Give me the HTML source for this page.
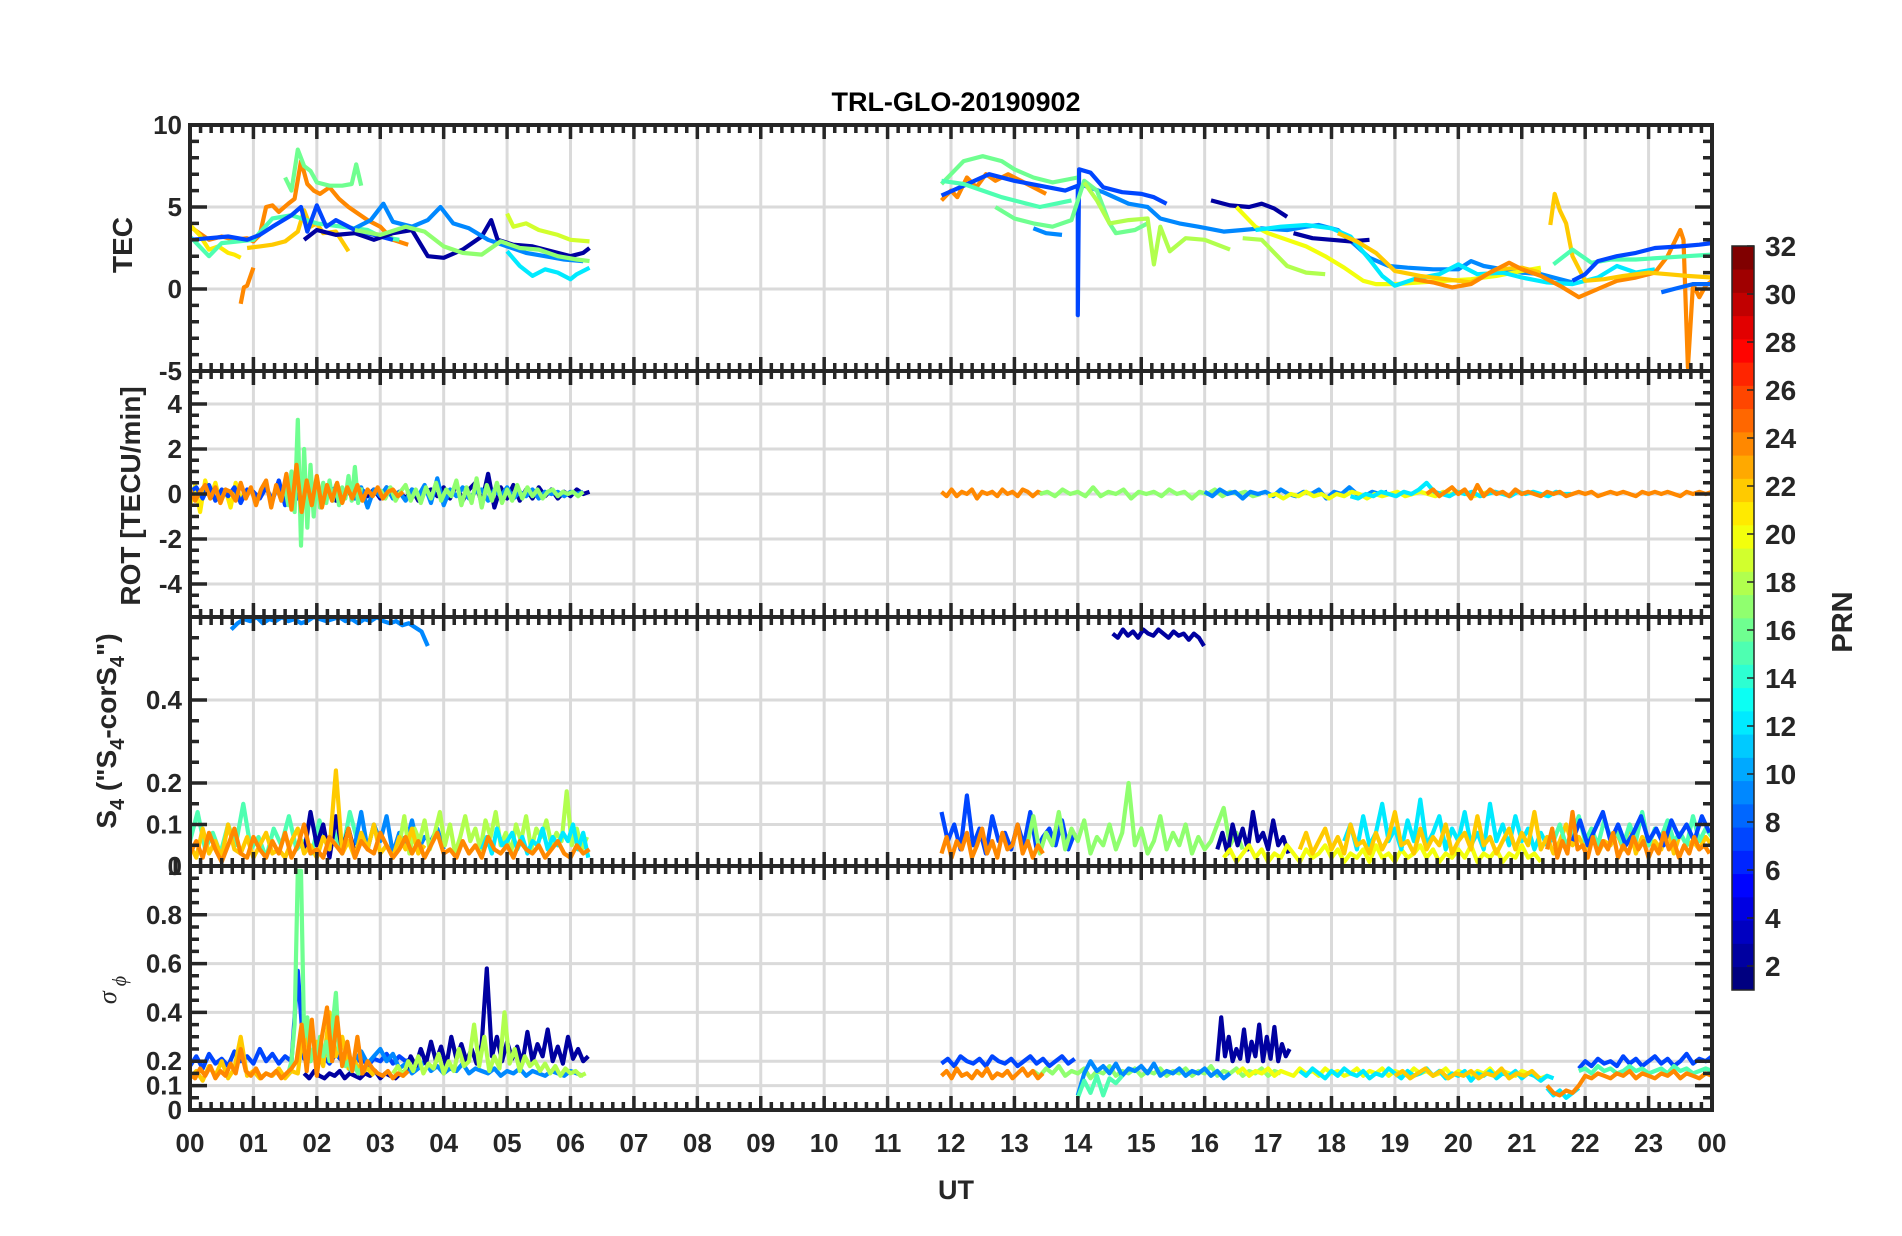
<!DOCTYPE html>
<html><head><meta charset="utf-8">
<style>
html,body{margin:0;padding:0;background:#fff;}
svg{display:block;font-family:"Liberation Sans",Arial,sans-serif;font-weight:bold;}
</style></head>
<body>
<svg id="chart" width="1902" height="1236" viewBox="0 0 1902 1236" xmlns="http://www.w3.org/2000/svg">
<rect x="0" y="0" width="1902" height="1236" fill="#fff"/>
<defs>
<clipPath id="c0"><rect x="190" y="125" width="1522" height="246"/></clipPath>
<clipPath id="c1"><rect x="190" y="371" width="1522" height="246"/></clipPath>
<clipPath id="c2"><rect x="190" y="617" width="1522" height="249"/></clipPath>
<clipPath id="c3"><rect x="190" y="866" width="1522" height="244"/></clipPath>
</defs>
<g id="grid"></g>
<g id="series"></g>
<g id="axes"></g>
<text x="956" y="111" font-size="27" text-anchor="middle" fill="#000">TRL-GLO-20190902</text>
<text x="956" y="1199" font-size="27" text-anchor="middle" fill="#262626">UT</text>
<text transform="translate(132,245) rotate(-90)" font-size="28" text-anchor="middle" fill="#262626">TEC</text>
<text transform="translate(140,496) rotate(-90)" font-size="28" text-anchor="middle" fill="#262626">ROT [TECU/min]</text>
<text transform="translate(116,731) rotate(-90)" font-size="28" text-anchor="middle" fill="#262626">S<tspan font-size="20" dy="8">4</tspan><tspan dy="-8"> ("S</tspan><tspan font-size="20" dy="8">4</tspan><tspan dy="-8">-corS</tspan><tspan font-size="20" dy="8">4</tspan><tspan dy="-8">")</tspan></text>
<text transform="translate(116,990) rotate(-90)" font-size="26" text-anchor="middle" fill="#262626" font-family="Liberation Serif, serif" font-style="italic" font-weight="normal">σ<tspan font-size="20" dy="10"> ϕ</tspan></text>
<g id="cbar"></g>
<text transform="translate(1852,622) rotate(-90)" font-size="29" text-anchor="middle" fill="#262626">PRN</text>
</svg>
<script>
// ---------- data ----------
const hourLabels = ["00","01","02","03","04","05","06","07","08","09","10","11","12","13","14","15","16","17","18","19","20","21","22","23","00"];
const tecTicks = [-5,0,5,10];
const rotTicks = [-4,-2,0,2,4];
const s4Ticks = [0,0.1,0.2,0.4];
const sigTicks = [0,0.1,0.2,0.4,0.6,0.8];
const cbarTicks = [2,4,6,8,10,12,14,16,18,20,22,24,26,28,30,32];

const tecPrn = [24,22,21,24,16,15,7,2,9,12,17,19,16,24,7,9,15,16,18,18,2,2,20,12,22,24,22,15,7,8,9];
const tecPts = [
 [[0,3.8],[0.15,3.4],[0.3,3.0],[0.5,3.2],[0.7,3.0],[0.9,3.1],[1.0,2.9],[1.1,3.3],[1.2,5.0],[1.3,5.1],[1.4,4.7],[1.55,5.2],[1.65,5.5],[1.75,7.8],[1.85,6.4],[1.95,6.0],[2.05,5.8],[2.2,6.2],[2.35,5.5],[2.5,5.0],[2.65,4.6],[2.8,4.2],[3.0,3.8],[3.2,3.0],[3.44,2.7]],
 [[0.9,2.5],[1.1,2.6],[1.3,2.7],[1.5,2.9],[1.7,3.5],[1.8,4.8],[1.9,3.8],[2.0,4.0],[2.1,3.4],[2.3,3.5],[2.45,2.6],[2.5,2.3]],
 [[0,3.9],[0.15,3.3],[0.3,2.4],[0.45,2.6],[0.6,2.2],[0.7,2.1],[0.8,1.9]],
 [[0.8,-0.9],[0.85,0.1],[0.9,0.2],[1.0,1.3]],
 [[1.5,6.8],[1.6,6.0],[1.7,8.5],[1.8,7.5],[1.9,7.2],[2.0,6.5],[2.2,6.3],[2.4,6.3],[2.55,6.4],[2.62,7.6],[2.7,6.3]],
 [[0,3.2],[0.3,2.0],[0.5,2.8],[1.0,3.0],[1.3,4.3],[1.6,4.5],[2.0,4.0],[2.4,3.8],[2.8,3.6],[3.0,3.2],[3.3,3.0]],
 [[0,3.0],[0.3,3.1],[0.6,3.2],[0.9,3.0],[1.1,3.3],[1.3,3.8],[1.6,4.5],[1.75,5.0],[1.85,3.5],[2.0,5.1],[2.15,3.8],[2.3,4.2],[2.6,3.6],[2.9,3.3],[3.2,3.0]],
 [[1.8,3.0],[2.0,3.6],[2.3,3.3],[2.6,3.4],[2.9,3.0],[3.2,3.4],[3.5,3.6],[3.75,2.0],[4.0,1.9],[4.3,2.4],[4.6,3.2],[4.75,4.2],[4.85,3.0],[5.1,2.7],[5.4,2.6],[5.7,2.3],[6.0,2.0],[6.2,2.2],[6.3,2.5]],
 [[2.6,3.7],[2.85,4.2],[3.05,5.2],[3.2,4.1],[3.5,3.8],[3.75,4.2],[3.95,5.0],[4.15,4.0],[4.4,3.7],[4.7,3.0],[5.0,2.6],[5.3,2.2],[5.6,2.0],[5.9,1.8],[6.2,1.7]],
 [[5.0,2.3],[5.2,1.4],[5.4,0.8],[5.6,1.2],[5.8,1.0],[6.0,0.6],[6.1,0.9],[6.3,1.3]],
 [[2.6,3.6],[3.0,3.3],[3.4,3.8],[3.7,3.5],[4.0,2.6],[4.3,2.2],[4.6,2.1],[4.9,2.9],[5.2,2.5],[5.5,2.4],[5.8,2.0],[6.1,1.8],[6.3,1.7]],
 [[5.0,4.6],[5.1,3.8],[5.3,4.0],[5.5,3.6],[5.8,3.3],[6.0,3.0],[6.3,2.9]],
 [[11.85,6.4],[12.0,7.0],[12.2,7.8],[12.5,8.1],[12.8,7.8],[13.0,7.3],[13.3,6.8],[13.6,6.5],[14.0,6.8]],
 [[11.85,5.4],[12.0,6.0],[12.1,5.6],[12.25,6.8],[12.4,6.2],[12.55,7.0],[12.7,6.6],[12.9,7.0],[13.1,6.6],[13.3,6.2],[13.5,5.8]],
 [[11.85,5.7],[12.2,6.3],[12.6,7.0],[13.0,6.6],[13.4,6.3],[13.8,6.0],[14.0,6.3],[14.0,-1.6],[14.02,7.3],[14.2,7.1],[14.4,6.2],[14.7,5.9],[15.0,5.8],[15.2,5.6],[15.4,5.2]],
 [[14.1,6.3],[14.4,5.9],[14.8,5.2],[15.1,5.0],[15.3,4.3],[15.6,4.0],[15.9,3.8],[16.3,3.5],[16.6,3.6],[16.9,3.7],[17.3,3.6],[17.6,3.8],[17.8,3.9],[18.1,3.6],[18.4,2.6],[18.6,1.9],[18.9,1.4],[19.2,1.3],[19.6,1.2],[20.0,1.2],[20.2,1.7],[20.4,1.4],[20.7,1.2],[21.0,1.0],[21.3,0.9],[21.6,0.6],[21.8,0.4]],
 [[11.85,6.6],[12.2,6.4],[12.5,6.0],[12.8,5.6],[13.1,5.3],[13.4,5.0],[13.9,5.4]],
 [[12.7,5.0],[13.0,4.3],[13.3,4.0],[13.6,3.8],[13.9,4.2],[14.1,6.6],[14.3,6.0],[14.5,4.0],[14.6,3.4],[14.9,3.6],[15.1,4.0]],
 [[14.1,6.5],[14.3,5.4],[14.5,4.0],[14.8,4.2],[15.1,4.3],[15.2,1.5],[15.3,3.8],[15.45,2.3],[15.7,3.1],[16.0,3.0],[16.4,2.4]],
 [[16.6,3.1],[16.9,3.0],[17.1,2.2],[17.3,1.4],[17.6,1.0],[17.9,0.9]],
 [[16.1,5.4],[16.4,5.1],[16.7,5.0],[16.9,5.2],[17.1,4.9],[17.3,4.4]],
 [[17.4,3.4],[17.7,3.1],[18.0,3.0],[18.3,2.9],[18.6,3.0]],
 [[16.5,5.0],[16.8,3.8],[17.0,3.4],[17.3,3.0],[17.6,2.6],[17.9,2.0],[18.2,1.3],[18.5,0.5],[18.7,0.3],[19.0,0.3],[19.4,0.4],[19.8,0.5],[20.2,0.6],[20.6,0.8],[21.0,1.1],[21.3,1.3]],
 [[16.8,3.6],[17.2,3.8],[17.6,3.9],[18.0,3.7],[18.3,3.2],[18.6,1.8],[18.8,0.8],[19.0,0.2],[19.3,0.6],[19.7,0.9],[20.0,1.5],[20.3,0.9],[20.7,1.0],[21.0,0.7],[21.4,0.4],[21.8,0.3],[22.2,0.7],[22.5,1.4],[22.8,1.0],[23.1,1.2]],
 [[18.1,3.4],[18.4,2.9],[18.7,2.2],[19.0,1.1],[19.4,0.8],[19.8,0.6],[20.2,0.4],[20.6,1.2],[21.0,1.3],[21.3,1.0]],
 [[19.3,0.6],[19.6,0.4],[19.9,0.1],[20.2,0.3],[20.5,1.0],[20.8,1.6],[21.0,1.2],[21.3,0.8],[21.6,0.2],[21.9,-0.5],[22.2,0.0],[22.5,0.5],[22.8,0.7],[23.1,1.0],[23.3,2.0],[23.5,3.6],[23.55,3.0],[23.62,-4.8],[23.7,0.3],[23.8,-0.5],[23.9,0.2],[24,0.5]],
 [[21.45,3.9],[21.52,5.8],[21.6,4.8],[21.7,4.0],[21.8,2.0],[22.0,0.5],[22.3,0.6],[22.6,0.8],[23.0,1.0],[23.3,0.9],[23.6,0.8],[24,0.7]],
 [[21.5,1.5],[21.8,2.4],[22.1,1.6],[22.4,1.8],[22.8,1.8],[23.2,1.9],[23.6,2.0],[24,2.1]],
 [[21.8,0.5],[22.0,0.9],[22.2,1.7],[22.5,2.0],[22.8,2.2],[23.1,2.5],[23.5,2.6],[23.8,2.7],[24,2.8]],
 [[23.2,-0.2],[23.4,0.0],[23.7,0.3],[24,0.3]],
 [[13.3,3.7],[13.5,3.4],[13.75,3.3]]
];

const rotPrn = [21,7,2,9,17,16,24,24,17,9,20,12,24];
const rotStart = [0,0,1.8,2.5,3.0,1.5,0,11.85,13.4,16.0,17.0,18.3,19.5];
const rotStep = [0.08,0.1,0.1,0.1,0.08,0.05,0.08,0.08,0.12,0.12,0.12,0.12,0.1];
const rotVals = [
 [-0.5,0.4,-0.8,0.6,-0.2,0.5,-0.4,0.2,-0.6,0.5,-0.3,0.2],
 [0.1,0.3,-0.2,0.4,-0.3,0.2,-0.1,0.3,-0.4,0.2,0.1,-0.2,0.3,-0.3,0.6,-0.5,0.4,-0.2,0.3,-0.1,0.2,-0.2,0.1,0.3,-0.2,0.1,-0.1,0.2,0.0,0.1],
 [0.1,-0.2,0.2,-0.1,0.3,-0.3,0.1,0.2,-0.2,0.1,-0.1,0.2,-0.2,0.3,-0.1,0.1,-0.2,0.2,-0.3,0.1,0.2,-0.1,0.3,-0.2,0.4,-0.3,0.2,0.5,-0.4,0.9,-0.6,0.3,-0.2,0.4,-0.3,0.2,-0.2,0.3,-0.1,0.2,-0.2,0.1,-0.1,0.2,0.0,0.1],
 [0.1,-0.2,0.3,-0.6,0.2,-0.1,0.3,-0.2,0.1,-0.3,0.2,-0.1,0.4,-0.4,0.7,-0.5,0.2,-0.1,0.3,-0.2,0.1,0.2,-0.3,0.2,-0.1,0.3,-0.2,0.1,-0.1,0.2,-0.2,0.1,0.0,0.1,-0.1,0.1,0.0,0.1],
 [0.2,-0.2,0.3,-0.3,0.1,0.4,-0.3,0.2,-0.4,0.3,-0.2,0.5,-0.3,0.2,-0.1,0.6,-0.5,0.3,-0.4,0.7,-0.6,0.4,-0.3,0.5,-0.4,0.2,-0.3,0.4,-0.2,0.3,-0.1,0.2,-0.2,0.1,0.2,-0.1,0.1,0.0,0.1,-0.1,0.1],
 [0.3,-0.5,1.0,-0.8,3.3,-2.3,2.0,-1.5,1.3,-1.0,0.8,-0.6,0.5,-0.4,0.6,-0.3,0.4,-0.5,0.3,-0.2,0.8,-0.3,1.2,-0.4,0.3],
 [0.2,-0.3,0.1,0.4,-0.2,0.3,-0.4,0.2,0.1,-0.3,0.5,-0.2,0.3,-0.5,0.2,0.6,-0.6,0.4,-0.3,0.9,-0.7,1.3,-0.8,0.6,-0.5,0.8,-0.6,0.4,-0.3,0.5,-0.4,0.3,-0.2,0.4,-0.3,0.2,-0.1,0.3,-0.2,0.1,0.2,-0.1,0.1],
 [0.1,-0.1,0.2,-0.1,0.1,0.0,0.2,-0.2,0.1,0.0,0.1,-0.1,0.2,0.0,0.1,-0.1,0.2,0.1,-0.1,0.1,0.0],
 [0.0,0.1,-0.1,0.2,0.0,0.1,-0.1,0.3,-0.1,0.1,0.0,0.2,-0.2,0.1,0.0,0.1,-0.1,0.2,0.0,0.1,-0.2,0.1,0.0,0.2,-0.1,0.1,0.0,0.1,-0.1,0.0],
 [0.1,-0.1,0.2,0.0,0.1,-0.2,0.1,0.0,0.1,-0.1,0.2,0.0,-0.1,0.1,0.0,0.2,-0.2,0.1,0.0,0.3,0.0,-0.1,0.1,0.0,0.1],
 [-0.1,0.0,-0.2,0.0,-0.1,0.1,-0.1,0.0,-0.2,0.0,-0.1,0.1,0.0,-0.2,0.0,-0.1,0.0,0.1,-0.1,0.0,0.1,0.0,-0.1,0.1,0.0,0.1,0.0,-0.1,0.0,0.1],
 [-0.1,-0.2,0.0,-0.1,0.1,0.0,-0.1,0.1,0.0,0.2,0.5,0.1,0.0,-0.1,0.1,0.0,0.1,-0.1,0.0,0.1,0.0,-0.1,0.1,0.0,0.1,0.0,-0.1,0.1,0.0,0.0],
 [0.0,0.2,-0.1,0.1,0.3,0.0,0.2,-0.2,0.4,-0.1,0.2,0.0,0.1,-0.1,0.2,0.0,0.1,0.0,-0.1,0.1,0.0,0.1,-0.1,0.0,0.1,0.0,0.1,-0.1,0.0,0.1,0.0,0.1,0.0,-0.1,0.1,0.0,0.1,0.0,0.1,0.0,-0.1,0.1,0.0,0.1,0.0,0.1]
];

const s4Prn = [9,2,15,9,2,18,12,22,24,7,17,2,20,12,22,15,7,24,24];
const s4Start = [0.65,14.55,0,2.6,1.8,3.3,4.6,0,0,11.85,13.2,16.2,16.3,18.2,17.5,21.5,21.8,21.4,11.85];
const s4Step = [0.1,0.08,0.12,0.1,0.1,0.08,0.08,0.1,0.1,0.1,0.1,0.08,0.1,0.1,0.1,0.1,0.12,0.08,0.08];
const s4Vals = [
 [0.57,0.585,0.595,0.59,0.6,0.585,0.595,0.59,0.6,0.59,0.595,0.585,0.59,0.6,0.595,0.59,0.595,0.6,0.59,0.595,0.585,0.595,0.59,0.6,0.59,0.585,0.59,0.58,0.585,0.575,0.565,0.53],
 [0.56,0.55,0.57,0.555,0.565,0.55,0.57,0.56,0.555,0.57,0.56,0.55,0.565,0.555,0.56,0.545,0.56,0.55,0.53],
 [0.06,0.13,0.04,0.08,0.03,0.1,0.05,0.15,0.04,0.07,0.02,0.09,0.05,0.12,0.04,0.06,0.03,0.11,0.05,0.08,0.03,0.13,0.06],
 [0.05,0.13,0.04,0.1,0.06,0.12,0.03,0.08,0.05,0.11,0.04,0.07,0.06,0.09,0.04],
 [0.03,0.13,0.05,0.1,0.02,0.12,0.04,0.09,0.03,0.06],
 [0.05,0.12,0.03,0.09,0.06,0.11,0.04,0.08,0.13,0.05,0.1,0.03,0.07,0.12,0.06,0.09,0.04,0.11,0.07,0.13,0.05,0.08,0.03,0.1,0.06,0.12,0.04,0.09,0.07,0.11,0.05,0.08,0.06,0.18,0.05,0.09,0.04,0.07],
 [0.04,0.07,0.03,0.09,0.05,0.06,0.08,0.04,0.07,0.03,0.06,0.05,0.09,0.04,0.07,0.05,0.08,0.06,0.1,0.04,0.08,0.02],
 [0.05,0.02,0.09,0.03,0.06,0.02,0.1,0.04,0.03,0.07,0.02,0.05,0.08,0.03,0.04,0.02,0.06,0.09,0.03,0.05,0.02,0.07,0.04,0.23,0.03,0.06,0.02,0.08,0.04,0.1,0.03,0.05,0.02,0.07,0.04,0.09,0.03,0.05],
 [0.03,0.06,0.02,0.08,0.04,0.01,0.05,0.09,0.03,0.02,0.07,0.04,0.02,0.06,0.03,0.08,0.02,0.05,0.1,0.03,0.04,0.02,0.07,0.05,0.03,0.09,0.02,0.06,0.04,0.03,0.08,0.05,0.02,0.04,0.07,0.03,0.06,0.02,0.05,0.08,0.03,0.04,0.02,0.06,0.03,0.05,0.02,0.07,0.04,0.03,0.05,0.02,0.06,0.04,0.03,0.05,0.02,0.04,0.06,0.03,0.02,0.05,0.03,0.04],
 [0.13,0.06,0.1,0.04,0.17,0.05,0.09,0.03,0.12,0.06,0.08,0.04,0.1,0.05,0.13,0.04,0.07,0.09,0.05,0.11,0.04,0.08],
 [0.05,0.12,0.03,0.08,0.05,0.13,0.04,0.09,0.06,0.11,0.03,0.07,0.05,0.1,0.04,0.08,0.2,0.05,0.09,0.03,0.06,0.12,0.04,0.08,0.05,0.1,0.03,0.07,0.04,0.06,0.1,0.14,0.05,0.08,0.04],
 [0.04,0.08,0.03,0.1,0.05,0.09,0.04,0.13,0.06,0.08,0.04,0.11,0.05,0.07,0.03],
 [0.02,0.04,0.01,0.03,0.05,0.02,0.04,0.01,0.03,0.02,0.05,0.03,0.01,0.04,0.02,0.03,0.05,0.02,0.04,0.01,0.03,0.02,0.04,0.01,0.05,0.02,0.03,0.01,0.04,0.02,0.03,0.05,0.02,0.04,0.01,0.03,0.02,0.04,0.02,0.05,0.01,0.03,0.02,0.04,0.01,0.03,0.02,0.05,0.02,0.03,0.01],
 [0.06,0.1,0.04,0.12,0.05,0.08,0.15,0.06,0.09,0.04,0.11,0.06,0.16,0.05,0.08,0.12,0.04,0.09,0.06,0.13,0.05,0.08,0.04,0.15,0.06,0.1,0.05,0.12,0.06,0.09,0.04,0.08,0.05,0.07],
 [0.04,0.08,0.03,0.06,0.09,0.04,0.07,0.03,0.1,0.05,0.06,0.03,0.08,0.04,0.07,0.13,0.05,0.06,0.03,0.09,0.04,0.07,0.05,0.1,0.03,0.06,0.08,0.04,0.12,0.05,0.07,0.03,0.06,0.09,0.04,0.08,0.05,0.13,0.04,0.07,0.03,0.06,0.1,0.05,0.07,0.04,0.09,0.03,0.06,0.05,0.08,0.04,0.1,0.03,0.07,0.05,0.06,0.04,0.09,0.03,0.08,0.05,0.06,0.04,0.07,0.05],
 [0.06,0.1,0.05,0.08,0.12,0.06,0.09,0.05,0.11,0.07,0.08,0.05,0.1,0.06,0.13,0.05,0.09,0.07,0.11,0.06,0.08,0.05,0.12,0.06,0.09,0.07],
 [0.06,0.11,0.05,0.09,0.13,0.06,0.1,0.05,0.08,0.12,0.06,0.09,0.05,0.11,0.07,0.1,0.06,0.12,0.08],
 [0.04,0.09,0.02,0.06,0.03,0.13,0.04,0.05,0.02,0.07,0.03,0.06,0.04,0.08,0.02,0.05,0.03,0.07,0.04,0.06,0.02,0.05,0.03,0.08,0.04,0.06,0.02,0.05,0.03,0.07,0.04,0.05,0.03],
 [0.03,0.07,0.02,0.06,0.04,0.08,0.02,0.05,0.09,0.03,0.06,0.02,0.08,0.04,0.05,0.1,0.03,0.06,0.02,0.05,0.03]
];

const sigPrn = [7,9,2,18,22,16,24,7,17,9,15,2,20,12,22,7,15,12,24,24];
const sigStart = [0,2.5,1.8,3.2,0,1.55,0,11.85,13.3,14.0,14.0,16.2,16.5,17.5,19.0,21.9,21.9,21.4,21.4,11.85];
const sigStep = [0.1,0.1,0.08,0.08,0.1,0.05,0.08,0.1,0.1,0.1,0.1,0.06,0.1,0.1,0.12,0.1,0.1,0.1,0.1,0.08];
const sigVals = [
 [0.18,0.22,0.17,0.23,0.19,0.21,0.18,0.24,0.2,0.22,0.19,0.25,0.2,0.23,0.19,0.22,0.2,0.57,0.21,0.24,0.2,0.22,0.19,0.23,0.2,0.21,0.19,0.22,0.18,0.21,0.2,0.23,0.19,0.22,0.2,0.21],
 [0.16,0.2,0.24,0.19,0.22,0.25,0.2,0.23,0.17,0.19,0.15,0.17,0.2,0.16,0.18,0.15,0.17,0.16,0.19,0.15,0.17,0.16,0.15,0.17,0.14,0.16,0.15,0.17,0.14,0.16,0.15,0.14,0.16,0.15,0.14,0.16,0.15,0.14],
 [0.15,0.13,0.16,0.14,0.13,0.15,0.14,0.16,0.13,0.15,0.14,0.13,0.15,0.14,0.16,0.13,0.15,0.14,0.13,0.15,0.16,0.22,0.18,0.25,0.19,0.28,0.2,0.26,0.18,0.3,0.21,0.27,0.2,0.25,0.19,0.27,0.58,0.22,0.3,0.2,0.28,0.21,0.26,0.19,0.32,0.2,0.27,0.22,0.33,0.2,0.26,0.19,0.3,0.21,0.25,0.2,0.22],
 [0.15,0.18,0.14,0.2,0.16,0.22,0.15,0.19,0.17,0.23,0.15,0.2,0.16,0.25,0.18,0.2,0.35,0.18,0.3,0.16,0.22,0.17,0.4,0.19,0.25,0.16,0.22,0.18,0.2,0.16,0.19,0.15,0.18,0.14,0.17,0.15,0.16,0.14,0.15],
 [0.13,0.16,0.12,0.18,0.14,0.2,0.13,0.17,0.3,0.14,0.16,0.13,0.15,0.14,0.17,0.13,0.16,0.15,0.36,0.2,0.28,0.18,0.4,0.22,0.3,0.17,0.2,0.15,0.17,0.14],
 [0.15,0.2,0.35,0.98,0.98,0.3,0.38,0.2,0.25,0.18,0.3,0.22,0.28,0.2,0.35,0.48,0.25,0.22,0.18,0.2,0.16,0.18,0.15,0.17],
 [0.15,0.13,0.17,0.14,0.18,0.13,0.16,0.14,0.19,0.15,0.25,0.16,0.14,0.17,0.13,0.15,0.14,0.16,0.13,0.15,0.17,0.2,0.35,0.16,0.37,0.14,0.3,0.42,0.2,0.38,0.18,0.28,0.16,0.3,0.15,0.2,0.17,0.15,0.14,0.16,0.13,0.15,0.14,0.16],
 [0.19,0.21,0.18,0.22,0.2,0.19,0.21,0.18,0.22,0.2,0.19,0.21,0.18,0.2,0.22,0.19,0.21,0.18,0.2,0.22,0.19,0.21],
 [0.16,0.14,0.17,0.15,0.18,0.14,0.16,0.15,0.17,0.13,0.16,0.15,0.18,0.14,0.16,0.15,0.17,0.14,0.16,0.15,0.17,0.14,0.16,0.15,0.17,0.14,0.16,0.15,0.18,0.14,0.16,0.15,0.17,0.14,0.16,0.15,0.17,0.14,0.16,0.15],
 [0.06,0.15,0.2,0.16,0.18,0.15,0.19,0.14,0.17,0.16,0.18,0.15,0.19,0.14,0.16,0.15,0.17,0.14,0.16,0.15,0.17,0.14,0.16,0.13,0.15],
 [0.05,0.12,0.07,0.14,0.06,0.13,0.11,0.14],
 [0.2,0.38,0.22,0.3,0.2,0.25,0.21,0.33,0.2,0.28,0.22,0.35,0.2,0.3,0.21,0.34,0.2,0.27,0.22,0.25],
 [0.15,0.17,0.14,0.16,0.15,0.17,0.14,0.16,0.15,0.14,0.17,0.15,0.16,0.14,0.17,0.15,0.16,0.14,0.15,0.17,0.14,0.16,0.15,0.17,0.14,0.16,0.15,0.14,0.17,0.15,0.16,0.14,0.15,0.17,0.14,0.16,0.15,0.14,0.16,0.15,0.17,0.14,0.16,0.15,0.14,0.16,0.15,0.14,0.13,0.14],
 [0.16,0.14,0.17,0.15,0.13,0.16,0.14,0.17,0.15,0.14,0.16,0.13,0.15,0.14,0.17,0.15,0.13,0.16,0.14,0.15,0.17,0.14,0.16,0.13,0.15,0.14,0.16,0.12,0.15,0.14,0.16,0.13,0.15,0.14,0.16,0.13,0.15,0.14,0.12,0.14,0.13],
 [0.14,0.16,0.13,0.15,0.17,0.14,0.16,0.13,0.15,0.14,0.16,0.13,0.15,0.14,0.17,0.13,0.15,0.14,0.16,0.13],
 [0.17,0.2,0.18,0.21,0.19,0.2,0.18,0.22,0.19,0.21,0.18,0.2,0.22,0.19,0.21,0.18,0.2,0.23,0.19,0.21,0.2,0.22],
 [0.16,0.17,0.15,0.18,0.16,0.17,0.15,0.16,0.18,0.16,0.17,0.15,0.16,0.17,0.15,0.18,0.16,0.17,0.15,0.16,0.17,0.16],
 [0.09,0.06,0.08,0.05,0.07,0.09],
 [0.1,0.07,0.06,0.08,0.07,0.1,0.14,0.13,0.15,0.14,0.13,0.15,0.14,0.16,0.13,0.15,0.14,0.13,0.15,0.14,0.16,0.13,0.15,0.14,0.13,0.15,0.14],
 [0.14,0.16,0.13,0.17,0.14,0.15,0.13,0.16,0.14,0.17,0.13,0.15,0.14,0.16,0.13,0.15,0.17,0.14,0.16,0.13,0.15]
];

// ---------- layout ----------
const NS = "http://www.w3.org/2000/svg";
const X0 = 190, X1 = 1712;
const panels = [
 {top:125, bot:371, min:-5, max:10, ticks:tecTicks, minor:1, clip:"c0", name:"tec"},
 {top:371, bot:617, min:-5.47, max:5.47, ticks:rotTicks, minor:0.5, clip:"c1", name:"rot"},
 {top:617, bot:866, min:0, max:0.6, ticks:s4Ticks, minor:0.05, clip:"c2", name:"s4"},
 {top:866, bot:1110, min:0, max:1.0, ticks:sigTicks, minor:0.05, clip:"c3", name:"sigma"}
];
function xs(h){ return X0 + (X1 - X0) * h / 24; }
function ys(p, v){ return p.bot - (v - p.min) / (p.max - p.min) * (p.bot - p.top); }
function jet(prn){
  const t = (prn - 1) / 31;
  const c = k => Math.round(255 * Math.max(0, Math.min(1, 1.5 - Math.abs(4 * t - k))));
  return "rgb(" + c(3) + "," + c(2) + "," + c(1) + ")";
}
function mk(tag, attrs, parent){
  const e = document.createElementNS(NS, tag);
  for (const k in attrs) e.setAttribute(k, attrs[k]);
  parent.appendChild(e); return e;
}
const gGrid = document.getElementById("grid");
const gSer = document.getElementById("series");
const gAx = document.getElementById("axes");
const gCb = document.getElementById("cbar");
const AX = "#262626";

// grid
panels.forEach(p => {
  for (let h = 1; h < 24; h++) {
    const l = mk("line", {x1:xs(h), x2:xs(h), y1:p.top, y2:p.bot, stroke:"#dadada", "stroke-width":3}, gGrid);
    
    
  }
  p.ticks.forEach(v => {
    const y = ys(p, v);
    if (y > p.top + 2 && y < p.bot - 2) {
      const l = mk("line", {x1:X0, x2:X1, y1:y, y2:y, stroke:"#dadada", "stroke-width":3}, gGrid);
      
      
    }
  });
});

function drawPath(p, pts, prn, name){
  let d = "";
  pts.forEach((q, i) => { d += (i ? "L" : "M") + xs(q[0]).toFixed(1) + " " + ys(p, q[1]).toFixed(1); });
  const e = mk("path", {d:d, fill:"none", stroke:jet(prn), "stroke-width":4.2, "stroke-linejoin":"round", "clip-path":"url(#" + p.clip + ")"}, gSer);
  
  
}
tecPts.forEach((pts, i) => drawPath(panels[0], pts, tecPrn[i], "tec-prn-" + tecPrn[i]));
function band(p, prns, starts, steps, vals, nm){
  vals.forEach((arr, i) => {
    const pts = arr.map((v, j) => [starts[i] + j * steps[i], v]);
    drawPath(p, pts, prns[i], nm + "-prn-" + prns[i]);
  });
}
band(panels[1], rotPrn, rotStart, rotStep, rotVals, "rot");
band(panels[2], s4Prn, s4Start, s4Step, s4Vals, "s4");
band(panels[3], sigPrn, sigStart, sigStep, sigVals, "sigma-phi");

// axes
panels.forEach((p, pi) => {
  const r = mk("rect", {x:X0, y:p.top, width:X1 - X0, height:p.bot - p.top, fill:"none", stroke:AX, "stroke-width":4}, gAx);
  
  
  let d = "";
  for (let m = 0; m <= 24 * 6; m++) {
    const x = xs(m / 6), L = (m % 6 === 0) ? 14 : 8;
    d += "M" + x + " " + p.bot + "v" + (-L) + "M" + x + " " + p.top + "v" + L;
  }
  const start = Math.ceil(p.min / p.minor - 1e-6) * p.minor;
  for (let v = start; v <= p.max + 1e-9; v += p.minor) {
    const y = ys(p, v);
    const major = p.ticks.some(t => Math.abs(t - v) < 1e-6);
    const L = major ? 17 : 9;
    d += "M" + X0 + " " + y + "h" + L + "M" + X1 + " " + y + "h" + (-L);
  }
  const t = mk("path", {d:d, stroke:AX, "stroke-width":3.5, fill:"none"}, gAx);
  
  
  p.ticks.forEach(v => {
    const tx = mk("text", {x:182, y:ys(p, v) + 9, "font-size":26, "text-anchor":"end", fill:AX}, gAx);
    
    
    tx.textContent = String(v);
  });
});
const one = mk("text", {x:182, y:866 + 9, "font-size":26, "text-anchor":"end", fill:AX}, gAx);


one.textContent = "1";
hourLabels.forEach((s, i) => {
  const tx = mk("text", {x:xs(i), y:1152, "font-size":26, "text-anchor":"middle", fill:AX}, gAx);
  
  
  tx.textContent = s;
});

// colorbar
const CB_X = 1732, CB_W = 22, CB_BOT = 990, CB_PER = 24;
for (let k = 1; k <= 32; k++) {
  const r = mk("rect", {x:CB_X, y:CB_BOT - k * 23.25, width:CB_W, height:23.6, fill:jet(k)}, gCb);
  
  
}
const cbb = mk("rect", {x:CB_X, y:CB_BOT - 744, width:CB_W, height:744, fill:"none", stroke:AX, "stroke-width":1.5}, gCb);


cbarTicks.forEach(v => {
  const y = CB_BOT - (v - 1) * CB_PER;
  const l = mk("line", {x1:CB_X + CB_W - 7, x2:CB_X + CB_W, y1:y, y2:y, stroke:AX, "stroke-width":1.5}, gCb);
  
  
  const tx = mk("text", {x:1765, y:y + 10, "font-size":28, fill:AX}, gCb);
  
  
  tx.textContent = String(v);
});
</script>
</body></html>
